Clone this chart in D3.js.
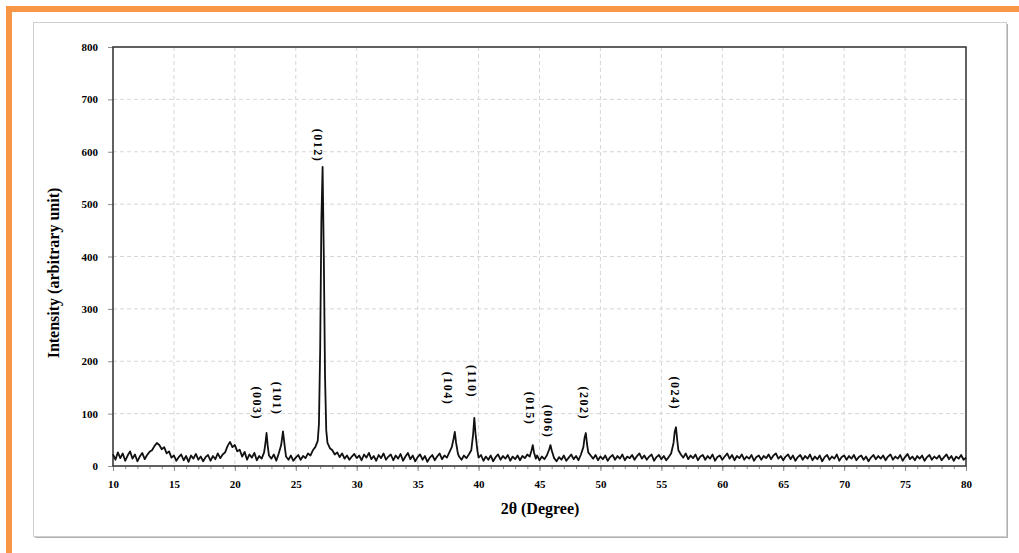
<!DOCTYPE html>
<html>
<head>
<meta charset="utf-8">
<script src="https://cdn.jsdelivr.net/npm/d3@7"></script>
<style>
  body { margin: 0; background: #fff; }
  svg text { font-family: "Liberation Serif", "Times New Roman", serif; font-weight: bold; fill: #000; }
</style>
</head>
<body>
<svg width="1019" height="553"></svg>
<script>
/* XRD scan values: [2theta, intensity] */
var scan = [
  [10.0,22],[10.2,12],[10.4,26],[10.6,15],[10.8,24],[11.0,10],[11.2,20],[11.4,28],[11.6,14],[11.8,22],
  [12.0,9],[12.2,18],[12.4,25],[12.6,13],[12.8,21],[13.0,27],[13.2,30],[13.4,38],[13.6,44],[13.8,40],
  [14.0,32],[14.2,36],[14.4,24],[14.6,28],[14.8,16],[15.0,20],[15.2,10],[15.4,17],[15.6,22],[15.8,11],
  [16.0,19],[16.2,8],[16.4,20],[16.6,14],[16.8,23],[17.0,12],[17.2,18],[17.4,9],[17.6,17],[17.8,21],
  [18.0,10],[18.2,19],[18.4,13],[18.6,24],[18.8,15],[19.0,22],[19.2,26],[19.4,38],[19.6,46],[19.8,36],
  [20.0,40],[20.2,28],[20.4,31],[20.6,18],[20.8,27],[21.0,12],[21.2,22],[21.4,16],[21.6,25],[21.8,11],
  [22.0,19],[22.2,14],[22.4,26],[22.5,42],[22.6,63],[22.7,38],[22.8,20],[23.0,14],[23.2,22],[23.4,10],
  [23.6,24],[23.8,40],[23.95,66],[24.1,36],[24.2,18],[24.4,12],[24.6,20],[24.8,10],[25.0,16],[25.2,21],
  [25.4,12],[25.6,19],[25.8,15],[26.0,24],[26.2,20],[26.4,30],[26.6,36],[26.8,48],[26.9,80],[27.0,220],
  [27.1,470],[27.2,571],[27.3,400],[27.4,170],[27.5,68],[27.6,44],[27.8,34],[28.0,30],[28.2,22],[28.4,26],
  [28.6,17],[28.8,24],[29.0,14],[29.2,20],[29.4,12],[29.6,18],[29.8,23],[30.0,15],[30.2,20],[30.4,11],
  [30.6,22],[30.8,16],[31.0,25],[31.2,13],[31.4,19],[31.6,10],[31.8,21],[32.0,15],[32.2,24],[32.4,12],
  [32.6,18],[32.8,22],[33.0,11],[33.2,20],[33.4,14],[33.6,23],[33.8,10],[34.0,18],[34.2,25],[34.4,13],
  [34.6,20],[34.8,9],[35.0,17],[35.2,22],[35.4,12],[35.6,19],[35.8,8],[36.0,16],[36.2,21],[36.4,11],
  [36.6,18],[36.8,24],[37.0,13],[37.2,20],[37.4,16],[37.6,26],[37.8,36],[37.95,52],[38.05,65],[38.15,45],
  [38.3,24],[38.4,18],[38.6,12],[38.8,20],[39.0,15],[39.2,22],[39.4,30],[39.55,60],[39.65,92],[39.75,62],
  [39.9,30],[40.0,16],[40.2,21],[40.4,10],[40.6,18],[40.8,12],[41.0,20],[41.2,9],[41.4,17],[41.6,22],
  [41.8,12],[42.0,19],[42.2,14],[42.4,21],[42.6,10],[42.8,18],[43.0,13],[43.2,20],[43.4,11],[43.6,19],
  [43.8,15],[44.0,22],[44.2,18],[44.35,30],[44.45,40],[44.55,26],[44.7,14],[44.8,20],[45.0,11],[45.2,18],
  [45.4,13],[45.6,20],[45.8,32],[45.9,40],[46.0,30],[46.2,15],[46.4,9],[46.6,17],[46.8,12],[47.0,20],
  [47.2,10],[47.4,16],[47.6,22],[47.8,13],[48.0,19],[48.2,11],[48.4,22],[48.6,36],[48.7,54],[48.8,63],
  [48.9,42],[49.0,26],[49.2,20],[49.4,14],[49.6,21],[49.8,11],[50.0,18],[50.2,13],[50.4,20],[50.6,10],
  [50.8,17],[51.0,21],[51.2,12],[51.4,19],[51.6,14],[51.8,22],[52.0,11],[52.2,18],[52.4,15],[52.6,21],
  [52.8,12],[53.0,19],[53.2,24],[53.4,14],[53.6,20],[53.8,12],[54.0,18],[54.2,22],[54.4,10],[54.6,17],
  [54.8,21],[55.0,13],[55.2,19],[55.4,11],[55.6,17],[55.8,24],[56.0,44],[56.1,66],[56.2,74],[56.3,50],
  [56.4,30],[56.6,22],[56.8,16],[57.0,24],[57.2,13],[57.4,20],[57.6,15],[57.8,22],[58.0,11],[58.2,18],
  [58.4,21],[58.6,12],[58.8,19],[59.0,14],[59.2,22],[59.4,10],[59.6,17],[59.8,20],[60.0,12],[60.2,18],
  [60.4,24],[60.6,14],[60.8,21],[61.0,11],[61.2,19],[61.4,15],[61.6,22],[61.8,12],[62.0,18],[62.2,14],
  [62.4,21],[62.6,10],[62.8,17],[63.0,20],[63.2,12],[63.4,19],[63.6,15],[63.8,22],[64.0,13],[64.2,20],
  [64.4,24],[64.6,14],[64.8,19],[65.0,11],[65.2,18],[65.4,22],[65.6,13],[65.8,20],[66.0,10],[66.2,17],
  [66.4,21],[66.6,12],[66.8,19],[67.0,14],[67.2,22],[67.4,11],[67.6,18],[67.8,13],[68.0,20],[68.2,9],
  [68.4,17],[68.6,21],[68.8,12],[69.0,18],[69.2,14],[69.4,22],[69.6,10],[69.8,17],[70.0,20],[70.2,12],
  [70.4,19],[70.6,14],[70.8,21],[71.0,11],[71.2,17],[71.4,20],[71.6,12],[71.8,18],[72.0,9],[72.2,16],
  [72.4,21],[72.6,13],[72.8,19],[73.0,14],[73.2,20],[73.4,11],[73.6,18],[73.8,22],[74.0,12],[74.2,18],
  [74.4,14],[74.6,21],[74.8,10],[75.0,17],[75.2,23],[75.4,13],[75.6,18],[75.8,11],[76.0,19],[76.2,14],
  [76.4,20],[76.6,10],[76.8,17],[77.0,21],[77.2,12],[77.4,18],[77.6,14],[77.8,20],[78.0,11],[78.2,17],
  [78.4,22],[78.6,13],[78.8,19],[79.0,10],[79.2,18],[79.4,14],[79.6,21],[79.8,12],[80.0,16]
];

// peak labels (Miller indices), where they sit (2theta) and where their lower end is (intensity)
var peakLabels = ["(003)", "(101)", "(012)", "(104)", "(110)", "(015)", "(006)", "(202)", "(024)"];
var labelAngle = [21.8, 23.5, 26.8, 37.5, 39.5, 44.2, 45.7, 48.7, 56.1];
var labelEnd   = [88, 97, 580, 116, 130, 78, 53, 88, 107];

var xTicks = [10, 15, 20, 25, 30, 35, 40, 45, 50, 55, 60, 65, 70, 75, 80];
var yTicks = [0, 100, 200, 300, 400, 500, 600, 700, 800];

var svg = d3.select("svg");

// frame: orange edge + grey card
svg.append("rect").attr("x", 6).attr("y", 6).attr("width", 1013).attr("height", 6).attr("fill", "#f79646");
svg.append("rect").attr("x", 6).attr("y", 6).attr("width", 6).attr("height", 547).attr("fill", "#f79646");
svg.append("rect").attr("x", 35).attr("y", 24).attr("width", 973).attr("height", 514).attr("fill", "#b0b0b0");
svg.append("rect").attr("x", 33.5).attr("y", 22.5).attr("width", 973).attr("height", 514)
  .attr("fill", "#fff").attr("stroke", "#cfcfcf").attr("stroke-width", 1);

var margin = {left: 113, top: 47, right: 966, bottom: 466};

var x = d3.scaleLinear().domain([10, 80]).range([margin.left, margin.right]);
var y = d3.scaleLinear().domain([0, 800]).range([margin.bottom, margin.top]);

// grid
var grid = svg.append("g").attr("class", "grid");
grid.selectAll("line.v")
  .data(xTicks.slice(1, -1))
  .enter().append("line")
    .attr("x1", function(d) { return x(d); })
    .attr("x2", function(d) { return x(d); })
    .attr("y1", margin.top)
    .attr("y2", margin.bottom)
    .attr("stroke", "#d6d6d6")
    .attr("stroke-dasharray", "4,3");
grid.selectAll("line.h")
  .data(yTicks.slice(1, -1))
  .enter().append("line")
    .attr("x1", margin.left)
    .attr("x2", margin.right)
    .attr("y1", function(d) { return y(d); })
    .attr("y2", function(d) { return y(d); })
    .attr("stroke", "#d6d6d6")
    .attr("stroke-dasharray", "4,3");

// axes
var xAxis = svg.append("g")
    .attr("transform", "translate(0," + margin.bottom + ")")
    .call(d3.axisBottom(x).tickValues(xTicks).tickSize(5).tickPadding(9).tickFormat(d3.format("d")));
var xMinor = svg.append("g")
    .attr("transform", "translate(0," + margin.bottom + ")")
    .call(d3.axisBottom(x).ticks(70).tickSize(3).tickFormat(""));
var yAxis = svg.append("g")
    .attr("transform", "translate(" + margin.left + ",0)")
    .call(d3.axisLeft(y).tickValues(yTicks).tickSize(5).tickPadding(10).tickFormat(d3.format("d")));

[xAxis, xMinor, yAxis].forEach(function(g) {
  g.select(".domain").remove();
  g.selectAll(".tick line").attr("stroke", "#8c8c8c");
  g.selectAll("text").attr("font-size", 11).attr("font-family", "Liberation Serif").attr("font-weight", "bold");
});

// plot frame
svg.append("rect")
  .attr("x", margin.left).attr("y", margin.top)
  .attr("width", margin.right - margin.left).attr("height", margin.bottom - margin.top)
  .attr("fill", "none").attr("stroke", "#3a3a3a").attr("stroke-width", 1.6);

// scan line
var line = d3.line()
  .x(function(d) { return x(d[0]); })
  .y(function(d) { return y(d[1]); });

svg.append("path")
  .datum(scan)
  .attr("d", line)
  .attr("fill", "none")
  .attr("stroke", "#111")
  .attr("stroke-width", 1.8)
  .attr("stroke-linejoin", "round");

// peak labels, rotated to read downward
svg.append("g")
  .selectAll("text")
  .data(peakLabels)
  .enter().append("text")
    .attr("transform", function(d, i) {
      return "translate(" + x(labelAngle[i]) + "," + y(labelEnd[i]) + ") rotate(90)";
    })
    .attr("text-anchor", "end")
    .attr("dy", "0.35em")
    .attr("font-size", 12)
    .attr("letter-spacing", 1.5)
    .text(function(d) { return d; });

// axis titles
svg.append("text")
  .attr("transform", "translate(53,273) rotate(-90)")
  .attr("text-anchor", "middle")
  .attr("dy", "0.35em")
  .attr("font-size", 16)
  .text("Intensity (arbitrary unit)");

svg.append("text")
  .attr("x", 540)
  .attr("y", 514)
  .attr("text-anchor", "middle")
  .attr("font-size", 16)
  .text("2θ (Degree)");
</script>
</body>
</html>
